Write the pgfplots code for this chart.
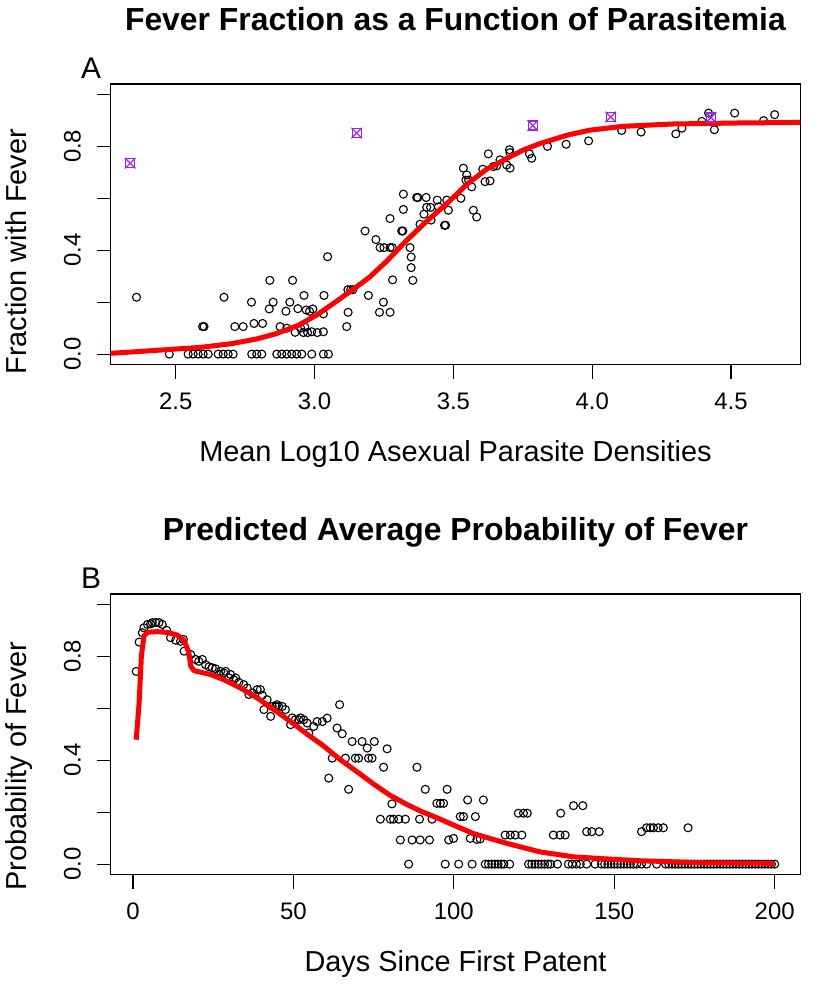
\documentclass[border=0pt]{standalone}
\usepackage{fontspec}
\setmainfont{Liberation Sans}
\usepackage{pgfplots}
\pgfplotsset{compat=1.18}
\definecolor{rpurple}{HTML}{A020F0}
\definecolor{rred}{HTML}{FF0000}
\pgfplotsset{
 rstyle/.style={
  scale only axis, width=689.5bp, height=280.5bp,
  clip mode=individual,
  axis line style={line width=1.2bp},
  every tick/.style={line width=1.2bp, black},
  tick align=outside, major tick length=14bp,
  tick pos=left,
  ymin=-0.04, ymax=1.04,
  ytick={0,0.2,0.4,0.6,0.8,1},
  yticklabels={0.0,,0.4,,0.8,},
  yticklabel style={rotate=90, anchor=base, font=\fontsize{24}{24}\selectfont},
  xticklabel style={anchor=base, font=\fontsize{24}{24}\selectfont},
  xticklabel shift=31bp, yticklabel shift=16bp,
  label style={font=\fontsize{29}{29}\selectfont},
  title style={font=\fontsize{32}{32}\selectfont\bfseries, anchor=base, at={(axis description cs:0.5,1.17)}},
  xlabel style={anchor=base, at={(axis description cs:0.5,-0.3458)}},
 }
}
\begin{document}
\begin{tikzpicture}
\useasboundingbox (0,0) rectangle (826bp,-988bp);
\begin{axis}[rstyle, at={(110.7bp,-364.5bp)}, anchor=south west,
  xmin=2.266, xmax=4.749,
  xtick={2.5,3,3.5,4,4.5}, xticklabels={2.5,3.0,3.5,4.0,4.5},
  title={Fever Fraction as a Function of Parasitemia},
  xlabel={Mean Log10 Asexual Parasite Densities},
  ylabel={Fraction with Fever},
  ylabel style={anchor=base, at={(axis description cs:-0.1228,0.402)}},
]
\addplot[only marks, mark=o, mark size=4bp, mark options={line width=1.1bp, black}] table {
x y
2.359 0.219
2.477 0
2.545 0
2.563 0
2.581 0
2.599 0
2.617 0
2.653 0
2.671 0
2.689 0
2.707 0
2.774 0
2.792 0
2.810 0
2.864 0
2.882 0
2.900 0
2.918 0
2.936 0
2.954 0
2.990 0
3.032 0
3.050 0
2.597 0.106
2.602 0.106
2.674 0.219
2.713 0.106
2.743 0.106
2.773 0.200
2.782 0.118
2.813 0.118
2.837 0.174
2.839 0.284
2.851 0.200
2.876 0.106
2.897 0.165
2.900 0.100
2.911 0.200
2.921 0.284
2.930 0.084
2.940 0.175
2.950 0.100
2.960 0.083
2.962 0.226
2.965 0.104
2.970 0.170
2.975 0.083
2.982 0.165
2.990 0.086
2.994 0.174
3.010 0.083
3.032 0.086
3.032 0.155
3.034 0.226
3.047 0.375
3.116 0.106
3.121 0.161
3.120 0.248
3.130 0.248
3.138 0.248
3.182 0.474
3.194 0.226
3.221 0.441
3.234 0.161
3.236 0.410
3.248 0.200
3.250 0.410
3.272 0.410
3.272 0.161
3.272 0.522
3.280 0.410
3.281 0.286
3.314 0.474
3.318 0.474
3.320 0.616
3.320 0.557
3.344 0.410
3.348 0.374
3.348 0.333
3.354 0.284
3.368 0.603
3.372 0.603
3.380 0.500
3.394 0.539
3.402 0.603
3.404 0.565
3.418 0.565
3.420 0.516
3.442 0.593
3.446 0.567
3.468 0.496
3.472 0.496
3.476 0.593
3.482 0.554
3.527 0.600
3.536 0.716
3.545 0.670
3.548 0.690
3.555 0.670
3.566 0.644
3.572 0.554
3.584 0.528
3.606 0.712
3.614 0.664
3.626 0.771
3.632 0.667
3.644 0.722
3.656 0.725
3.668 0.748
3.692 0.728
3.702 0.787
3.704 0.716
3.704 0.776
3.774 0.771
3.782 0.754
3.839 0.800
3.906 0.808
3.987 0.821
4.106 0.861
4.176 0.855
4.301 0.848
4.323 0.870
4.395 0.896
4.419 0.928
4.440 0.864
4.513 0.928
4.617 0.899
4.657 0.922
};
\addplot[rred, line width=5bp, line join=round, no marks] table {
x y
2.266 0.003
2.48 0.018
2.59 0.026
2.70 0.040
2.79 0.058
2.86 0.078
2.94 0.110
3.01 0.152
3.08 0.204
3.14 0.250
3.20 0.298
3.26 0.358
3.33 0.436
3.40 0.508
3.48 0.583
3.55 0.655
3.62 0.712
3.69 0.752
3.75 0.785
3.81 0.810
3.91 0.843
3.99 0.862
4.11 0.877
4.29 0.886
4.53 0.890
4.749 0.892
};
\addplot[only marks, mark=square, mark size=4.5bp, mark options={line width=1.2bp, rpurple}] table {
x y
2.336 0.735
3.152 0.851
3.786 0.880
4.067 0.913
4.428 0.911
};
\addplot[only marks, mark=x, mark size=7.5bp, mark options={line width=1.2bp, rpurple}] table {
x y
2.336 0.735
3.152 0.851
3.786 0.880
4.067 0.913
4.428 0.911
};
\node[anchor=base west, font=\fontsize{30}{30}\selectfont] at (rel axis cs:-0.048,1.02) {A};
\end{axis}
\begin{axis}[rstyle, at={(110.7bp,-874.5bp)}, anchor=south west,
  xmin=-6.96, xmax=207.96,
  xtick={0,50,100,150,200}, xticklabels={0,50,100,150,200},
  title={Predicted Average Probability of Fever},
  xlabel={Days Since First Patent},
  ylabel={Probability of Fever},
  ylabel style={anchor=base, at={(axis description cs:-0.1228,0.386)}},
]
\addplot[only marks, mark=o, mark size=4bp, mark options={line width=1.1bp, black}] table {
x y
1 0.742
1.9 0.855
2.9 0.891
3.4 0.910
4.5 0.923
5.5 0.925
6 0.930
7.1 0.930
8.1 0.930
9.1 0.923
10.5 0.900
11.7 0.872
13.3 0.862
14.8 0.858
15.7 0.865
15.9 0.820
18 0.807
19.5 0.788
20.5 0.781
21.6 0.788
22.6 0.768
23.7 0.760
24.7 0.756
25.7 0.752
26.8 0.730
27.3 0.742
28.3 0.736
28.9 0.742
29.9 0.717
30.4 0.730
31.4 0.710
32 0.717
33 0.700
34.5 0.691
35.6 0.678
36.1 0.653
37.2 0.659
38.7 0.672
39.7 0.672
40.3 0.650
40.8 0.595
41.8 0.633
42.9 0.569
43.4 0.607
44.4 0.607
44.9 0.614
45.4 0.607
46.5 0.607
47.5 0.595
49.1 0.537
49.6 0.563
50.6 0.556
51.7 0.556
52.2 0.563
53.2 0.556
54.3 0.543
54.8 0.505
56.3 0.530
57.4 0.549
59 0.549
60.5 0.562
61 0.331
62.1 0.408
63.6 0.524
64.4 0.614
65.2 0.502
66.2 0.408
67.2 0.288
68.3 0.472
69.3 0.408
70.3 0.408
71.4 0.472
73 0.447
73.4 0.408
74.5 0.408
75.2 0.472
77.1 0.173
78.1 0.373
79.2 0.444
80.2 0.173
80.7 0.232
81.2 0.173
82.8 0.173
83.3 0.093
84.9 0.173
85.9 0
87 0.093
88.5 0.373
89.3 0.173
89.5 0.093
91.1 0.288
92.4 0.093
93.2 0.173
94.7 0.234
95.8 0.234
96.8 0.234
97.3 0
97.9 0.288
98.4 0.093
99.9 0.099
101.5 0
102 0.183
103 0.183
104.3 0.247
105.1 0.099
105.7 0
106.7 0.183
107.2 0.095
108.2 0.097
109.2 0.247
109.8 0
110.8 0
111.8 0
112.8 0
113.8 0
114.8 0
115.6 0
116 0.112
117.4 0
117.6 0.112
119.1 0.112
120.1 0.196
121.2 0.112
121.7 0.196
122.9 0.196
123.3 0
124.3 0
125.3 0
126.3 0
127.3 0
128.3 0
129.3 0
130.1 0
131 0.112
132.3 0
133.1 0.112
133.3 0.196
134.7 0.112
135.7 0
136.9 0
137.3 0.225
138.2 0
139.4 0
140.2 0.225
141.4 0
141.4 0.125
143 0.125
144 0
145.3 0.125
146 0
147 0
148 0
149 0
150 0
151 0
152 0
153 0
154 0
155 0
156 0
157 0
158.5 0
158.5 0.125
160.1 0
160.1 0.140
161.2 0.140
162.2 0.140
163.2 0
163.7 0.140
165.3 0.140
166 0
167 0
168 0
169 0
170 0
171 0
172 0
173 0
173 0.140
174 0
175 0
176 0
177 0
178 0
179 0
180 0
181 0
182 0
183 0
184 0
185 0
186 0
187 0
188 0
189 0
190 0
191 0
192 0
193 0
194 0
195 0
196 0
197 0
198 0
199 0
200 0
};
\addplot[rred, line width=5bp, line join=round, no marks] table {
x y
1 0.479
1.4 0.543
1.9 0.62
2.6 0.80
3.4 0.878
4.5 0.893
7.6 0.895
10.7 0.892
13.8 0.882
15.9 0.862
17.4 0.815
18 0.762
19 0.745
20 0.742
24.2 0.730
28.3 0.710
33.5 0.678
38.7 0.640
43.9 0.595
49.1 0.549
54.3 0.500
59.4 0.455
64.6 0.402
69.8 0.356
75 0.308
80 0.266
85 0.232
90 0.202
95 0.177
100 0.150
106 0.118
116.5 0.080
126.9 0.047
137.3 0.028
147.6 0.020
158 0.013
168.4 0.009
178.8 0.005
200 0.003
};
\node[anchor=base west, font=\fontsize{30}{30}\selectfont] at (rel axis cs:-0.048,1.02) {B};
\end{axis}
\end{tikzpicture}
\end{document}
